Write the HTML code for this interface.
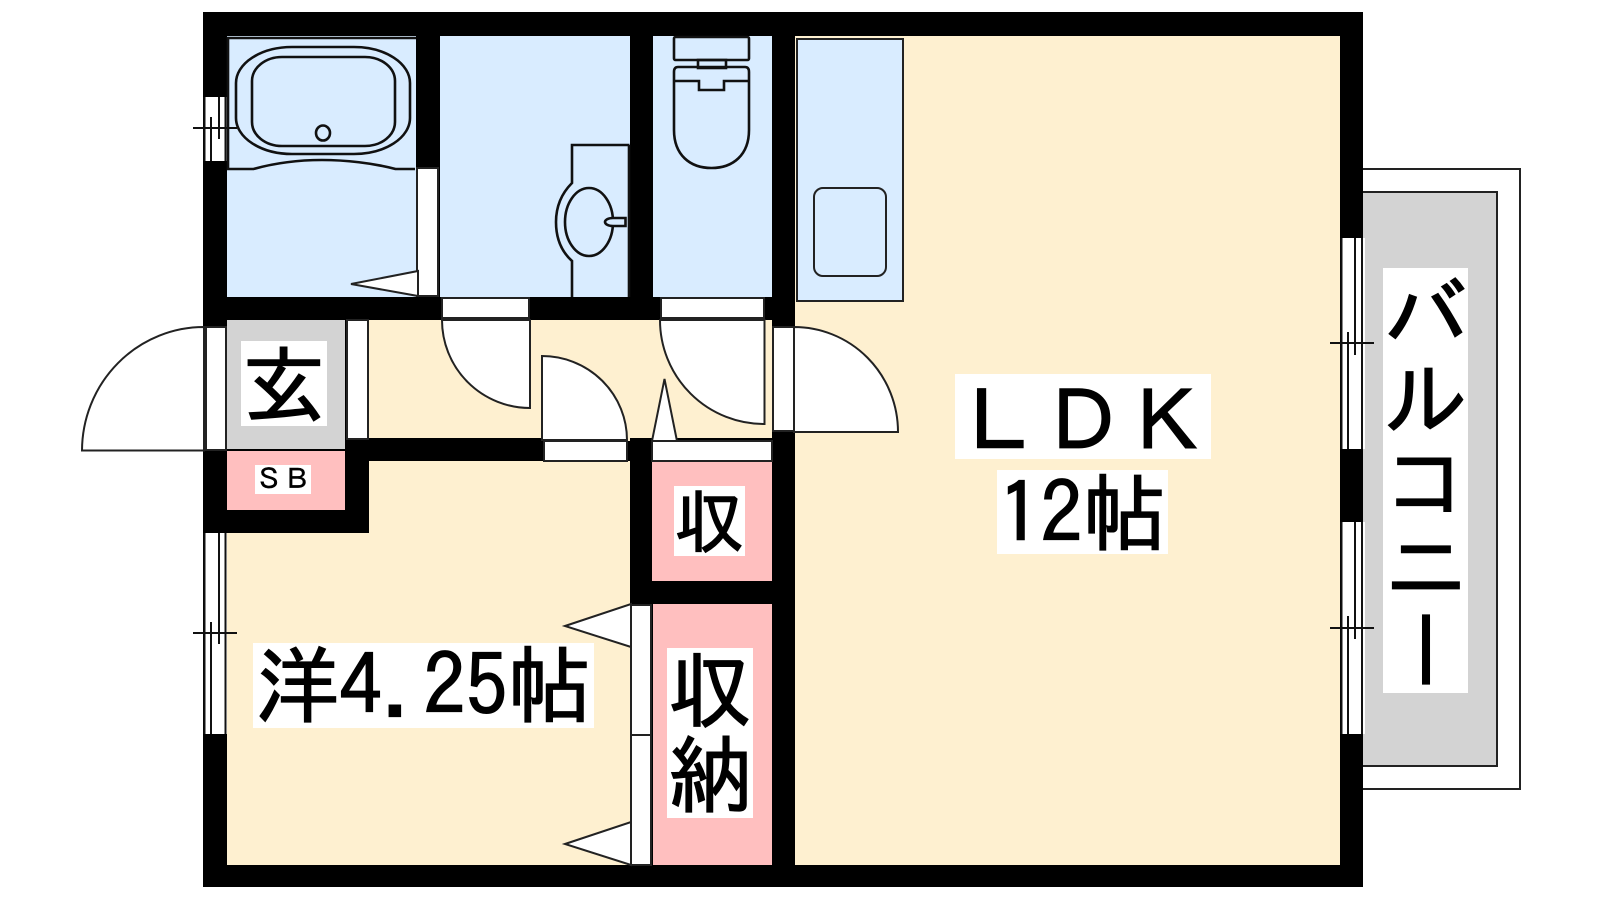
<!DOCTYPE html>
<html lang="ja"><head><meta charset="utf-8"><title>間取り図</title>
<style>
html,body{margin:0;padding:0;background:#fff}
#p{position:relative;width:1600px;height:900px;overflow:hidden;background:#fff}
svg{position:absolute;left:0;top:0}
.t{position:absolute;background:#fff;color:#000;font-family:"IPAGothic","Noto Sans CJK JP",sans-serif;text-align:center;white-space:nowrap;font-size:84px;-webkit-text-stroke:1.3px #000}
.t span{position:relative}
</style></head><body><div id="p">
<svg width="1600" height="900" viewBox="0 0 1600 900">
<!-- balcony -->
<rect x="1340" y="169" width="180" height="620" fill="#fff" stroke="#222" stroke-width="2"/>
<rect x="1340" y="192" width="157" height="574" fill="#d3d3d3" stroke="#222" stroke-width="2"/>
<!-- black walls base -->
<rect x="203" y="12" width="1160" height="875" fill="#000"/>
<!-- cream rooms -->
<g fill="#fef0d0">
<rect x="795" y="36" width="545" height="829"/>
<rect x="368" y="320" width="404" height="118"/>
<rect x="542" y="438" width="88" height="3"/>
<rect x="369" y="461" width="261" height="404"/>
<rect x="227" y="533" width="142" height="332"/>
</g>
<!-- blue rooms -->
<g fill="#d9ecff">
<rect x="227" y="36" width="189" height="261"/>
<rect x="440" y="36" width="190" height="261"/>
<rect x="653" y="36" width="119" height="261"/>
</g>
<!-- pink -->
<g fill="#ffbfbf">
<rect x="227" y="451" width="118" height="59"/>
<rect x="652" y="462" width="120" height="119"/>
<rect x="653" y="604" width="119" height="261"/>
</g>
<!-- entry -->
<rect x="227" y="320" width="118" height="129" fill="#d3d3d3"/>
<g fill="#fff" stroke="#222" stroke-width="2">
<rect x="347" y="320" width="21" height="119"/>
<!-- wall openings -->
<rect x="442" y="298" width="87" height="20"/>
<rect x="661" y="298" width="103" height="20"/>
<rect x="544" y="441" width="83" height="20"/>
<rect x="652" y="441" width="120" height="20"/>
<rect x="417" y="168" width="21" height="128"/>
<!-- doors -->
<path d="M442 320A88 88 0 0 0 530 408V320Z"/>
<path d="M542 440V356A85 84 0 0 1 627 440Z"/>
<path d="M660 320A104 104 0 0 0 764.500 424V320Z"/>
<path d="M82 450.500A122 124 0 0 1 204 327V450.500Z"/>
<path d="M794 327A104 105 0 0 1 898 432H794Z"/>
<rect x="206" y="327" width="20" height="123"/>
<rect x="773" y="327" width="21" height="104"/>
<!-- wedges -->
<path d="M351 284L418 271V296Z"/>
<path d="M664.500 379L652 441H677Z"/>
<path d="M565 626L631 604V647Z"/>
<path d="M565 844L631 822V865Z"/>
<!-- closet slider -->
<rect x="631" y="605" width="20" height="130"/>
<rect x="631" y="735" width="20" height="130"/>
</g>
<!-- windows: white openings, side lines only -->
<g fill="#fff">
<rect x="204" y="97" width="23" height="64"/>
<rect x="204" y="533" width="23" height="201"/>
<rect x="1341" y="238" width="24" height="211"/>
<rect x="1341" y="522" width="24" height="212"/>
</g>
<g fill="none" stroke="#111" stroke-width="2">
<path d="M204.500 97V161M225.500 97V161M211 117V161M219 97V139M193 128H237"/>
<path d="M204.500 533V734M225.500 533V734M211 622V734M219 533V644M193 633H237"/>
<path d="M1341.500 238V449M1362 238V449M1348 332V449M1355 238V355M1330 343H1374"/>
<path d="M1341.500 522V734M1362 522V734M1348 616V734M1355 522V639M1330 628H1374"/>
</g>
<g fill="none" stroke="#111" stroke-width="2.600">
<!-- bath -->
<path d="M416 38H228V169H253.500C275 163 300 160 322 160C345 160 373 163 395.500 169H415"/>
<rect x="236" y="47" width="174" height="107" rx="56" ry="36"/>
<rect x="252" y="57" width="143" height="89" rx="30" ry="24"/>
<ellipse cx="323" cy="133" rx="7" ry="7.500"/>
<!-- wash -->
<path d="M629.500 145H572V183C562 193 556 205 556 222C556 240 562 252 572 261V297M629 145V297"/>
<ellipse cx="589" cy="222" rx="24" ry="34"/>
<path d="M613 218H625.500V226H613C608 226 605 224 605 222C605 220 608 218 613 218Z" fill="#d9ecff"/>
<!-- toilet -->
<rect x="674" y="37" width="75" height="23" rx="1.500"/>
<rect x="698" y="60" width="28" height="8"/>
<path d="M674 81V72Q674 67 678 67H745Q749 67 749 72V81M674 81H699V90H724V81H749M674 81V130C674 155 690 168 711.500 168C733 168 749 155 749 130V81"/>
</g>
<g fill="none" stroke="#222" stroke-width="2">
<!-- kitchen -->
<rect x="797" y="39" width="106" height="262" fill="#d9ecff"/>
<rect x="814" y="188" width="72" height="88" rx="9"/>
</g>
</svg>
<div class="t" style="left:1383px;top:268px;width:85px;height:425px;line-height:85px;writing-mode:vertical-rl;text-orientation:upright">バルコニー</div>
<div class="t" style="left:241px;top:341px;width:86px;height:85px;line-height:85px"><span style="top:2px">玄</span></div>
<div class="t" style="left:255px;top:465px;width:56px;height:29px;line-height:29px;font-size:28px;-webkit-text-stroke:.5px #000">ＳＢ</div>
<div class="t" style="left:674px;top:486px;width:71px;height:70px;line-height:70px;font-size:70px">収</div>
<div class="t" style="left:667px;top:648px;width:86px;height:170px;line-height:85px">収<br>納</div>
<div class="t" style="left:253px;top:643px;width:341px;height:85px;line-height:85px">洋4.25帖</div>
<div class="t" style="left:955px;top:374px;width:256px;height:85px;line-height:85px"><span style="top:5px">ＬＤＫ</span></div>
<div class="t" style="left:997px;top:470px;width:171px;height:84px;line-height:84px"><span style="top:1px">12帖</span></div>
</div></body></html>
